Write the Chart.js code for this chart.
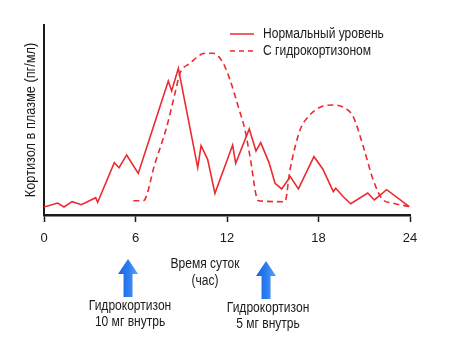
<!DOCTYPE html>
<html>
<head>
<meta charset="utf-8">
<script src="https://cdn.jsdelivr.net/npm/chart.js@4.4.0/dist/chart.umd.min.js"></script>
<style>
  html, body { margin: 0; padding: 0; background: #fff; }
  #wrap { width: 454px; height: 359px; }
</style>
</head>
<body>
<div id="wrap"><canvas id="kortizolChart"></canvas></div>
<script>
// Данные: нормальный уровень (часы, условные единицы)
const normHours = [0, 0.9, 1.31, 1.84, 2.45, 3.39, 3.52, 4.61, 4.92, 5.42, 6.18, 8.15, 8.37, 8.81,
    10.08, 10.3, 10.73, 11.21, 12.37, 12.57, 13.46, 13.9, 14.21, 14.75, 15.15, 15.59, 16.15, 16.68,
    17.7, 18.28, 18.97, 19.13, 19.63, 20.11, 21.23, 21.66, 22.47, 23.95];
const normValues = [4.2, 6.3, 4.2, 7.0, 5.4, 9.1, 6.7, 27.5, 24.9, 31.6, 21.9, 70.5, 65.3, 77.2,
    24.9, 36.5, 29.3, 11.4, 36.8, 27.2, 45.3, 33.7, 38.1, 27.7, 16.7, 13.7, 20.2, 13.7,
    30.7, 24.2, 12.3, 14.1, 9.6, 5.9, 11.6, 7.9, 13.3, 4.4];

// С гидрокортизоном
const hydroHours = [5.86, 6.51, 7.28, 8.05, 8.59, 8.92, 9.57, 10.56, 11.1, 11.76, 12.2, 12.74, 13.18,
    13.51, 14.05, 15.8, 16.13, 16.79, 17.33, 18.1, 18.97, 19.63, 20.28, 20.94, 21.59, 22.14, 22.9, 24];
const hydroValues = [7.5, 7.5, 27.2, 46.5, 64.1, 74.6, 79.8, 85.1, 85.1, 79.8, 71.1, 57.0, 44.7,
    30.7, 7.5, 7.0, 23.7, 44.7, 51.7, 56.7, 57.9, 56.7, 51.7, 35.9, 18.4, 8.8, 6.2, 4.4];

const xTicks = [0, 6, 12, 18, 24];
const legendLabels = ['Нормальный уровень', 'С гидрокортизоном'];
const doseHours = [5.51, 14.56];
const doseLabels = [['Гидрокортизон', '10 мг внутрь'], ['Гидрокортизон', '5 мг внутрь']];

const RED = '#ec2a2f';
const FONT = '"Liberation Sans", Arial, sans-serif';

function toPoints(xs, ys) {
    return xs.map((x, i) => ({ x: x, y: ys[i] }));
}

// узкий шрифт: сжимаем текст по горизонтали
function narrowText(ctx, text, x, y, align, k) {
    ctx.save();
    ctx.translate(x, y);
    ctx.scale(k || 0.86, 1);
    ctx.textAlign = align;
    ctx.fillText(text, 0, 0);
    ctx.restore();
}

// Легенда, подписи осей и стрелки доз
const extras = {
    id: 'extras',
    afterDraw(chart) {
        const ctx = chart.ctx;
        const xs = chart.scales.x;
        ctx.save();
        ctx.fillStyle = '#1a1a1a';
        ctx.font = '14px ' + FONT;
        ctx.textBaseline = 'middle';

        // легенда
        [34, 51].forEach((y, i) => {
            ctx.strokeStyle = RED;
            ctx.lineWidth = 1.5;
            ctx.setLineDash(i === 1 ? [5, 4] : []);
            ctx.beginPath();
            ctx.moveTo(230, y);
            ctx.lineTo(254, y);
            ctx.stroke();
            ctx.setLineDash([]);
            narrowText(ctx, legendLabels[i], 263, y, 'left');
        });

        // подпись оси Y
        ctx.save();
        ctx.translate(31, 120);
        ctx.rotate(-Math.PI / 2);
        narrowText(ctx, 'Кортизол в плазме (пг/мл)', 0, 0, 'center', 0.91);
        ctx.restore();

        // подпись оси X
        narrowText(ctx, 'Время суток', 205, 264, 'center');
        narrowText(ctx, '(час)', 205, 281, 'center');

        // стрелки
        const tops = [259, 261];
        doseHours.forEach((h, i) => {
            const cx = xs.getPixelForValue(h);
            const top = tops[i];
            const bottom = top + 38;
            const grad = ctx.createLinearGradient(cx - 10, 0, cx + 10, 0);
            grad.addColorStop(0, '#1565e0');
            grad.addColorStop(0.5, '#2a7cf0');
            grad.addColorStop(1, '#5aa4f5');
            ctx.fillStyle = grad;
            ctx.beginPath();
            ctx.moveTo(cx, top);
            ctx.lineTo(cx + 10, top + 15);
            ctx.lineTo(cx + 4.5, top + 15);
            ctx.lineTo(cx + 4.5, bottom);
            ctx.lineTo(cx - 4.5, bottom);
            ctx.lineTo(cx - 4.5, top + 15);
            ctx.lineTo(cx - 10, top + 15);
            ctx.closePath();
            ctx.fill();

            ctx.fillStyle = '#1a1a1a';
            narrowText(ctx, doseLabels[i][0], cx + 2, bottom + 9, 'center');
            narrowText(ctx, doseLabels[i][1], cx + 2, bottom + 25, 'center');
        });
        ctx.restore();
    }
};

const ctx = document.getElementById('kortizolChart').getContext('2d');
const chart = new Chart(ctx, {
    type: 'line',
    data: {
        datasets: [
            {
                label: legendLabels[0],
                data: toPoints(normHours, normValues),
                borderColor: RED,
                borderWidth: 1.6,
                pointRadius: 0,
                tension: 0
            },
            {
                label: legendLabels[1],
                data: toPoints(hydroHours, hydroValues),
                borderColor: RED,
                borderWidth: 1.6,
                borderDash: [6, 4],
                pointRadius: 0,
                cubicInterpolationMode: 'monotone'
            }
        ]
    },
    options: {
        responsive: true,
        maintainAspectRatio: false,
        animation: false,
        layout: { padding: { left: 0, top: 25, right: 44, bottom: 0 } },
        plugins: {
            legend: { display: false },
            tooltip: { enabled: false }
        },
        scales: {
            x: {
                type: 'linear',
                min: 0,
                max: 24,
                afterBuildTicks: (s) => { s.ticks = xTicks.map(v => ({ value: v })); },
                afterFit: (s) => { s.height = 144; },
                ticks: {
                    padding: 9,
                    color: '#1a1a1a',
                    font: { size: 13, family: FONT }
                },
                grid: {
                    drawOnChartArea: false,
                    drawTicks: true,
                    tickLength: 7,
                    tickWidth: 1.5,
                    color: '#1a1a1a'
                },
                border: { color: '#1a1a1a', width: 2.5 }
            },
            y: {
                min: 0,
                max: 100,
                afterFit: (s) => { s.width = 44; },
                ticks: { display: false },
                grid: { display: false },
                border: { color: '#1a1a1a', width: 2 }
            }
        }
    },
    plugins: [extras]
});
</script>
</body>
</html>
